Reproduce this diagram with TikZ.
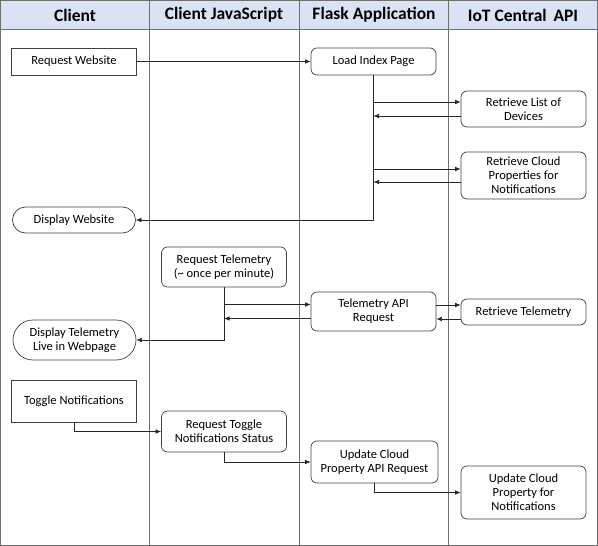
\documentclass[tikz,border=0pt]{standalone}
\usepackage{fontspec}
\setmainfont{Carlito}
\usetikzlibrary{arrows.meta, positioning, shapes.misc}
\definecolor{headblue}{HTML}{DAE3F3}
\definecolor{laneline}{HTML}{6F6F6F}
\tikzset{
>={Latex[length=5.5pt,width=4.5pt]}, % small filled arrow heads
task/.style={draw=black!75, line width=0.7pt, align=center, inner sep=1pt,
  font=\fontsize{12.5}{14.2}\selectfont, minimum width=125pt}, % plain box
roundtask/.style={task, rounded corners=6pt}, % rounded box
terminal/.style={task, rounded rectangle, rounded rectangle arc length=180}, % start/end shape
lanehead/.style={font=\fontsize{17.5}{19}\selectfont\bfseries},
flow/.style={->, line width=0.6pt, black!85},
}

\begin{document}
\begin{tikzpicture}[x=1pt, y=-1pt]
  \useasboundingbox (0,0) rectangle (598,546);
  % swim lanes
  \fill[headblue] (0.5,0.5) rectangle (597.5,29);
  \draw[laneline, line width=0.8pt] (0.5,29) -- (597.5,29);
  \draw[laneline, line width=1pt] (0.5,0.5) rectangle (597.5,545.5);
  \foreach \x in {149.5, 299, 448.5}
    \draw[laneline, line width=0.8pt] (\x,0.5) -- (\x,545.5);
  \node[lanehead] (hclient) at (75,15) {Client};
  \node[lanehead] (hjs) at (224,15) {Client JavaScript};
  \node[lanehead] (hflask) at (374,15) {Flask Application};
  \node[lanehead] (hiot) at (523,15) {IoT Central\, API};

  % steps
  \node[task, minimum height=27pt] (reqweb) at (74,61.5) {Request Website};
  \node[roundtask, minimum height=27pt] (load) at (373.5,61.5) {Load Index Page};
  \node[roundtask, minimum height=36pt] (retlist) at (523.5,109) {Retrieve List of\\Devices};
  \node[roundtask, minimum height=47pt] (retcloud) at (523.5,175.5) {Retrieve Cloud\\Properties for\\Notifications};
  \node[terminal, minimum height=26pt] (dispweb) at (74,220) {Display Website};
  \node[roundtask, minimum height=40pt] (reqtel) at (224,267) {Request Telemetry\\(\textasciitilde{} once per minute)};
  \node[roundtask, minimum height=39pt] (telapi) at (373.5,311.5) {Telemetry API\\Request};
  \node[roundtask, minimum height=26pt] (rettel) at (523.5,312) {Retrieve Telemetry};
  \node[terminal, minimum height=40pt] (disptel) at (74.5,340) {Display Telemetry\\Live in Webpage};
  \node[task, minimum height=42pt] (toggle) at (74,401) {Toggle Notifications};
  \node[roundtask, minimum height=41pt] (reqtog) at (224,431.5) {Request Toggle\\Notifications Status};
  \node[roundtask, minimum height=42pt, minimum width=127pt] (updapi) at (374.5,462) {Update Cloud\\Property API Request};
  \node[roundtask, minimum height=53pt] (updcloud) at (523.5,492.5) {Update Cloud\\Property for\\Notifications};

  % helper points on the connectors
  \coordinate (lo1) at ([yshift=7pt]retlist.west);
  \coordinate (li1) at ([yshift=-7pt]retlist.west);
  \coordinate (lo2) at ([yshift=6.5pt]retcloud.west);
  \coordinate (li2) at ([yshift=-6.5pt]retcloud.west);
  \coordinate (to1) at ([yshift=7pt]telapi.west);
  \coordinate (ti1) at ([yshift=-7pt]telapi.west);
  \coordinate (to2) at ([yshift=7pt]rettel.west);
  \coordinate (ti2) at ([yshift=-7pt]rettel.west);

  \path[flow]
  (reqweb) edge (load)
  (lo1 -| load.south) edge (lo1)
  (li1) edge (li1 -| load.south)
  (lo2 -| load.south) edge (lo2)
  (li2) edge (li2 -| load.south)
  (to1 -| reqtel.south) edge (to1)
  (ti1) edge (ti1 -| reqtel.south)
  (to2 -| telapi.east) edge (to2)
  (ti2) edge (ti2 -| telapi.east);
  \draw[flow] (load.south) |- (dispweb.east);
  \draw[flow] (reqtel.south) |- (disptel.east);
  \draw[flow] (toggle.south) |- (reqtog.west);
  \draw[flow] (reqtog.south) |- (updapi.west);
  \draw[flow] (updapi.south) |- (updcloud.west);
\end{tikzpicture}
\end{document}
